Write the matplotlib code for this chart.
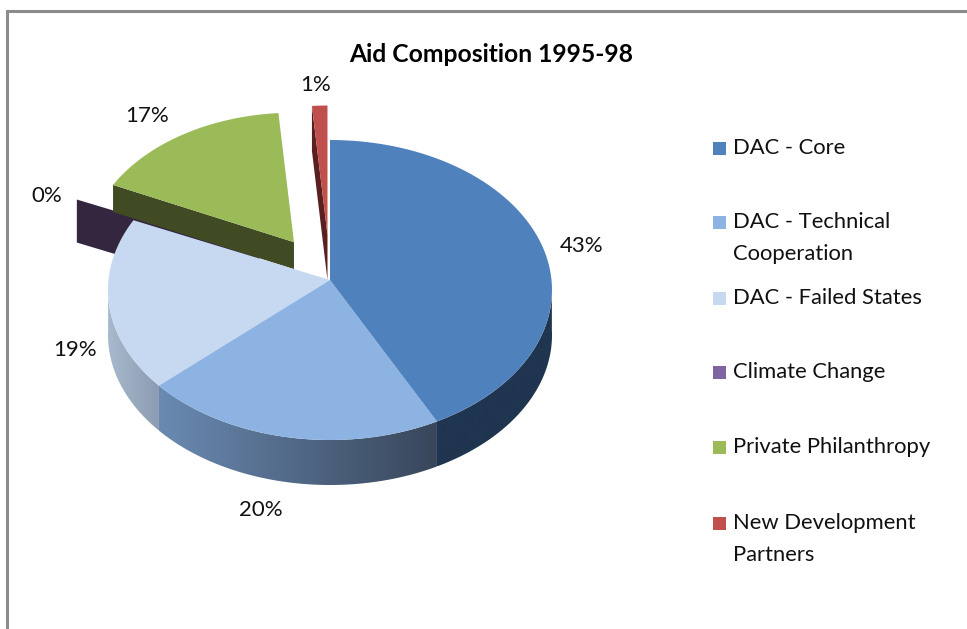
import matplotlib
matplotlib.use('Agg')
import matplotlib.pyplot as plt
import numpy as np
from matplotlib.colors import LinearSegmentedColormap
from matplotlib.patches import Polygon, Rectangle

plt.rcParams['font.family'] = ['Lato', 'DejaVu Sans']

title = 'Aid Composition 1995-98'
categories = ['DAC - Core', 'DAC - Technical\nCooperation', 'DAC - Failed States',
              'Climate Change', 'Private Philanthropy', 'New Development\nPartners']
# slice sizes as they look on the picture, the labels are what the chart prints
values = [42, 22, 18.7, 0.3, 15.8, 1.2]
pct_labels = ['43%', '20%', '19%', '0%', '17%', '1%']
top_colors = ['#4f81bd', '#8db3e2', '#c6d9f1', '#8064a2', '#9bbb59', '#c0504d']
explode = [0, 0, 0, 0.36, 0.3, 0.3]

# pie geometry in pixels
APEX = (330, 280)
CY = 290
RX, RY = 222, 150
DEPTH = 45
SHRINK = 0.93  # exploded slices sit further back


def rim(theta, k=0.0):
    '''point of the rim, theta clockwise from the top in degrees'''
    t = np.radians(theta)
    s = SHRINK if k > 0 else 1.0
    return (APEX[0] + RX * np.sin(t) * s, CY - RY * np.cos(t) * s)


def slice_poly(start, end, k=0.0):
    mid = np.radians((start + end) / 2)
    dx, dy = RX * np.sin(mid) * k, -RY * np.cos(mid) * k
    th = np.linspace(start, end, 80)
    xs, ys = rim(th, k)
    apex = (APEX[0] + dx, APEX[1] + dy)
    return apex, xs + dx, ys + dy


def draw_face(ax, start, end, color, k=0.0):
    apex, xs, ys = slice_poly(start, end, k)
    ax.fill(np.r_[apex[0], xs], np.r_[apex[1], ys], color=color, lw=0, zorder=5)


def draw_side(ax, start, end, c1, c2):
    # outer wall, an image with the colour running from c1 (left) to c2, cut to the wall shape
    th = np.linspace(start, end, 120)
    xs, ys = rim(th)
    pts = np.c_[np.r_[xs, xs[::-1]], np.r_[ys, ys[::-1] + DEPTH]]
    poly = Polygon(pts, closed=True, facecolor='none', edgecolor='none',
                   transform=ax.transData)
    ax.add_patch(poly)
    cmap = LinearSegmentedColormap.from_list('side', [c1, c2])
    grad = np.linspace(0, 1, 256).reshape(1, -1)
    im = ax.imshow(grad, cmap=cmap, aspect='auto', zorder=3, interpolation='bilinear',
                   extent=[xs.min(), xs.max(), pts[:, 1].max(), pts[:, 1].min()])
    im.set_clip_path(poly)


def draw_cut(ax, theta, start, end, k, color, depth, z):
    # flat wall of an exploded slice, along the radius at theta
    apex, xs, ys = slice_poly(start, end, k)
    px, py = (xs[0], ys[0]) if theta == start else (xs[-1], ys[-1])
    ax.fill([px, apex[0], apex[0], px], [py, apex[1], apex[1] + depth, py + depth],
            color=color, lw=0, zorder=z)


def Draw():
    fig = plt.figure(figsize=(9.67, 6.29), dpi=100)
    ax = fig.add_axes([0, 0, 1, 1])

    # frame of the screenshot
    ax.plot([7, 7, 967], [629, 11, 11], color='#8c8c8c', lw=2.2, zorder=1,
            solid_joinstyle='miter')

    edges = 360 * np.cumsum([0] + values) / sum(values)
    starts, ends = edges[:-1], edges[1:]

    # outer wall of the three front slices
    draw_side(ax, 88, ends[0], '#1f3550', '#1f3550')
    draw_side(ax, starts[1], ends[1], '#6a8ab2', '#38465a')
    draw_side(ax, starts[2], 272, '#a8b9cd', '#8c9cb2')

    # exploded slices at the back
    draw_cut(ax, starts[3], starts[3], ends[3], explode[3], '#35263f', 43, 2)
    draw_cut(ax, starts[4], starts[4], ends[4], explode[4], '#404a23', 27, 4)
    draw_cut(ax, starts[5], starts[5], ends[5], explode[5], '#5a1f1f', 45, 4)

    for i in [4, 5, 2, 1, 0]:
        draw_face(ax, starts[i], ends[i], top_colors[i], explode[i])

    ax.text(491, 54, title, fontsize=17.7, fontweight='bold', ha='center', va='center',
            color='black', zorder=6)

    label_pos = [(582, 246), (261, 510), (75, 350), (47, 196), (147, 116), (316, 85)]
    for (x, y), s in zip(label_pos, pct_labels):
        ax.text(x, y, s, fontsize=16, ha='center', va='center', color='#111111', zorder=6)

    legend_y = [148, 222, 298, 372, 447, 523]
    for y, name, c in zip(legend_y, categories, top_colors):
        ax.add_patch(Rectangle((713, y - 6.5), 13, 13, color=c, lw=0, zorder=6))
        ax.text(733, y - 10, name, fontsize=15.8, ha='left', va='top', color='#111111',
                linespacing=1.75, zorder=6)

    ax.set_xlim(0, 967)
    ax.set_ylim(629, 0)
    ax.axis('off')

    fig.savefig('out.png', dpi=100, facecolor='white')


def main():
    Draw()


if __name__ == "__main__":
    main()
